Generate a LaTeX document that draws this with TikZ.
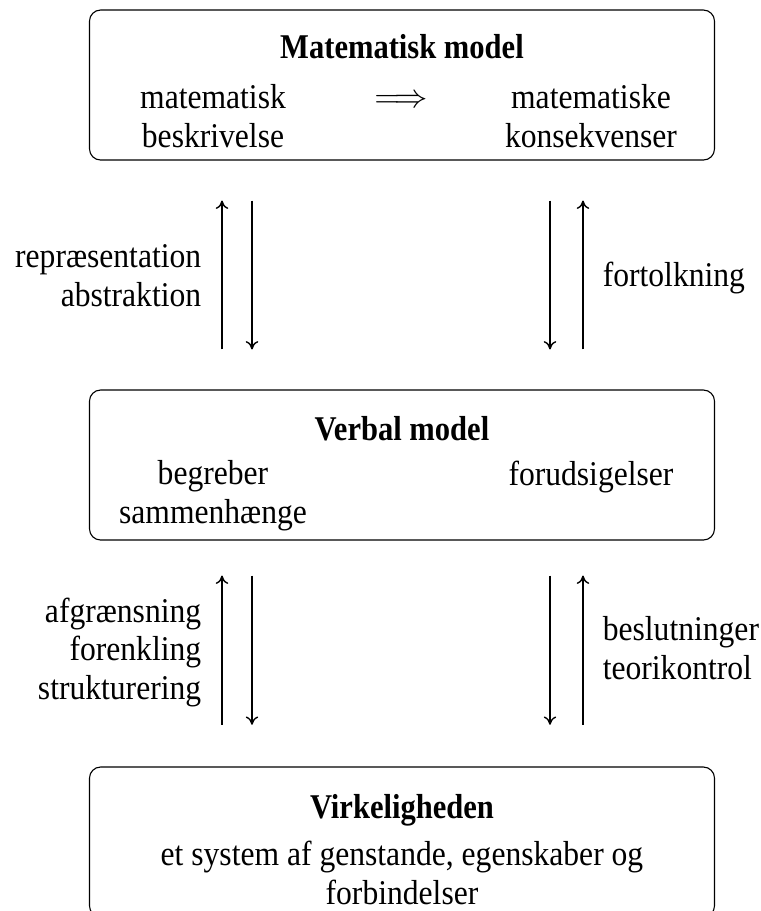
\documentclass[tikz,border=0pt]{standalone}
\usepackage{fontspec}
\setmainfont[FakeStretch=0.91,BoldFeatures={FakeStretch=0.88}]{Liberation Serif}
\usetikzlibrary{arrows.meta}
\begin{document}
\begin{tikzpicture}[x=0.36pt,y=-0.36pt,
   every node/.style={font=\fontsize{12.5}{13.7}\selectfont},
   box/.style={draw,line width=0.4pt,rounded corners=4pt,minimum width=225pt,minimum height=54pt},
   titel/.style={anchor=base,font=\fontsize{12.5}{13.7}\selectfont\bfseries},
   pil/.style={-{To[length=3pt,width=4.5pt]},line width=0.5pt}]
   \useasboundingbox (0,0) rectangle (761,911);
   % kasserne
   \node [box] (matem) at (402,85) {};
   \node [box] (verbal) at (402,465) {};
   \node [box] (virk) at (402,842) {};
   \node [titel] (tmatem) at (402,58) {Matematisk model};
   \node [titel] (tverbal) at (402,440) {Verbal model};
   \node [titel] (tvirk) at (402,818) {Virkeligheden};
   \node [anchor=base,align=center] (mbesk) at (213,147) {matematisk\\beskrivelse};
   \node [anchor=base] (impl) at (401,107) {$\Longrightarrow$};
   \node [anchor=base,align=center] (mkons) at (591,147) {matematiske\\konsekvenser};
   \node [anchor=base,align=center] (begr) at (213,523) {begreber\\sammenhænge};
   \node [anchor=base] (forud) at (591,485) {forudsigelser};
   \node [anchor=base,align=center] (system) at (402,904) {et system af genstande, egenskaber og\\forbindelser};
   % pilene
   \coordinate (la) at (222,0);
   \coordinate (lb) at (252,0);
   \coordinate (ra) at (550,0);
   \coordinate (rb) at (583,0);
   \draw [pil,shorten <=14.4pt,shorten >=14.4pt] (verbal.north -| la) -- (matem.south -| la);
   \draw [pil,shorten <=14.4pt,shorten >=14.4pt] (matem.south -| lb) -- (verbal.north -| lb);
   \draw [pil,shorten <=14.4pt,shorten >=14.4pt] (matem.south -| ra) -- (verbal.north -| ra);
   \draw [pil,shorten <=14.4pt,shorten >=14.4pt] (verbal.north -| rb) -- (matem.south -| rb);
   \draw [pil,shorten <=15pt,shorten >=12.6pt] (virk.north -| la) -- (verbal.south -| la);
   \draw [pil,shorten <=12.6pt,shorten >=15pt] (verbal.south -| lb) -- (virk.north -| lb);
   \draw [pil,shorten <=12.6pt,shorten >=15pt] (verbal.south -| ra) -- (virk.north -| ra);
   \draw [pil,shorten <=15pt,shorten >=12.6pt] (virk.north -| rb) -- (verbal.south -| rb);
   % tekst ved pilene
   \node [anchor=base east,align=right] (repr) at (211,306) {repræsentation\\abstraktion};
   \node [anchor=base west] (fort) at (593,286) {fortolkning};
   \node [anchor=base east,align=right] (afgr) at (211,699) {afgrænsning\\forenkling\\strukturering};
   \node [anchor=base west,align=left] (beslut) at (593,679) {beslutninger\\teorikontrol};
\end{tikzpicture}
\end{document}
